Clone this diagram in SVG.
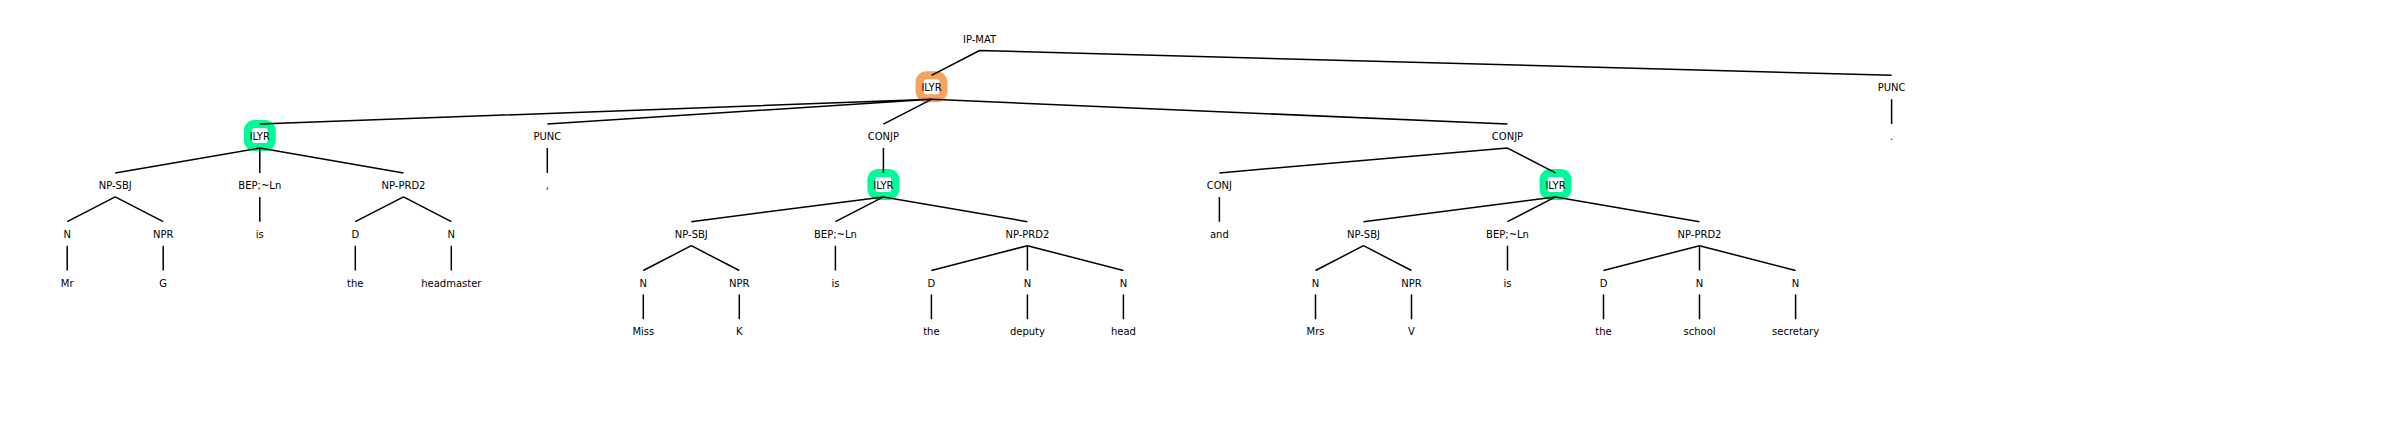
<svg xmlns="http://www.w3.org/2000/svg" width="2400" height="427" viewBox="0 0 2400 427">
<style>
text{font-family:"DejaVu Sans","Liberation Sans",sans-serif;font-size:10px;fill:#000;text-anchor:middle}
.e{stroke:#000;stroke-width:1.5;fill:none}
.hg{fill:#fff;stroke:#00FA9A;stroke-width:8}
.ho{fill:#fff;stroke:#F4A460;stroke-width:8}
</style>
<rect width="2400" height="427" fill="#fff"/>
<g id="nodes">
<g id="n-ipmat"><text x="979.6" y="42.6">IP-MAT</text></g>
<g id="n-ilyr-root"><rect class="ho" x="919.5" y="75.3" width="24" height="23" rx="7"/><text x="931.5" y="91.4">ILYR</text></g>
<g id="n-punc-end"><text x="1891.6" y="91.4">PUNC</text></g>
<g id="n-period"><text x="1891.6" y="140.2">.</text></g>

<g id="n-ilyr1"><rect class="hg" x="247.8" y="124.1" width="24" height="23" rx="7"/><text x="259.8" y="140.2">ILYR</text></g>
<g id="n-punc1"><text x="547.3" y="140.2">PUNC</text></g>
<g id="n-comma"><text x="547.3" y="189">,</text></g>
<g id="n-conjp1"><text x="883.4" y="140.2">CONJP</text></g>
<g id="n-conjp2"><text x="1507.5" y="140.2">CONJP</text></g>

<g id="n-npsbj1"><text x="115.2" y="189">NP-SBJ</text></g>
<g id="n-bep1"><text x="259.8" y="189">BEP;~Ln</text></g>
<g id="n-npprd1"><text x="403.5" y="189">NP-PRD2</text></g>
<g id="n-ilyr2"><rect class="hg" x="871.4" y="172.9" width="24" height="23" rx="7"/><text x="883.4" y="189">ILYR</text></g>
<g id="n-conj"><text x="1219.4" y="189">CONJ</text></g>
<g id="n-ilyr3"><rect class="hg" x="1543.5" y="172.9" width="24" height="23" rx="7"/><text x="1555.5" y="189">ILYR</text></g>

<g id="n-n1"><text x="67.2" y="237.8">N</text></g>
<g id="n-npr1"><text x="163.2" y="237.8">NPR</text></g>
<g id="n-is1"><text x="259.8" y="237.8">is</text></g>
<g id="n-d1"><text x="355.3" y="237.8">D</text></g>
<g id="n-n2"><text x="451.3" y="237.8">N</text></g>
<g id="n-npsbj2"><text x="691.3" y="237.8">NP-SBJ</text></g>
<g id="n-bep2"><text x="835.4" y="237.8">BEP;~Ln</text></g>
<g id="n-npprd2"><text x="1027.4" y="237.8">NP-PRD2</text></g>
<g id="n-and"><text x="1219.4" y="237.8">and</text></g>
<g id="n-npsbj3"><text x="1363.5" y="237.8">NP-SBJ</text></g>
<g id="n-bep3"><text x="1507.5" y="237.8">BEP;~Ln</text></g>
<g id="n-npprd3"><text x="1699.5" y="237.8">NP-PRD2</text></g>

<g id="n-mr"><text x="67.2" y="286.6">Mr</text></g>
<g id="n-g"><text x="163.2" y="286.6">G</text></g>
<g id="n-the1"><text x="355.3" y="286.6">the</text></g>
<g id="n-headmaster"><text x="451.3" y="286.6">headmaster</text></g>
<g id="n-n3"><text x="643.3" y="286.6">N</text></g>
<g id="n-npr2"><text x="739.3" y="286.6">NPR</text></g>
<g id="n-is2"><text x="835.4" y="286.6">is</text></g>
<g id="n-d2"><text x="931.4" y="286.6">D</text></g>
<g id="n-n4"><text x="1027.4" y="286.6">N</text></g>
<g id="n-n5"><text x="1123.4" y="286.6">N</text></g>
<g id="n-n6"><text x="1315.5" y="286.6">N</text></g>
<g id="n-npr3"><text x="1411.5" y="286.6">NPR</text></g>
<g id="n-is3"><text x="1507.5" y="286.6">is</text></g>
<g id="n-d3"><text x="1603.5" y="286.6">D</text></g>
<g id="n-n7"><text x="1699.5" y="286.6">N</text></g>
<g id="n-n8"><text x="1795.6" y="286.6">N</text></g>

<g id="n-miss"><text x="643.3" y="335.4">Miss</text></g>
<g id="n-k"><text x="739.3" y="335.4">K</text></g>
<g id="n-the2"><text x="931.4" y="335.4">the</text></g>
<g id="n-deputy"><text x="1027.4" y="335.4">deputy</text></g>
<g id="n-head"><text x="1123.4" y="335.4">head</text></g>
<g id="n-mrs"><text x="1315.5" y="335.4">Mrs</text></g>
<g id="n-v"><text x="1411.5" y="335.4">V</text></g>
<g id="n-the3"><text x="1603.5" y="335.4">the</text></g>
<g id="n-school"><text x="1699.5" y="335.4">school</text></g>
<g id="n-secretary"><text x="1795.6" y="335.4">secretary</text></g>
</g>
<g id="connectors" class="e">
<path class="e" d="M979.6 50.5L931.5 75.3M979.6 50.5L1891.6 75.3"/>
<path class="e" d="M1891.6 99.3L1891.6 124.1"/>
<path class="e" d="M931.5 99.3L259.8 124.1M931.5 99.3L547.3 124.1M931.5 99.3L883.4 124.1M931.5 99.3L1507.5 124.1"/>
<path class="e" d="M259.8 148.1L115.2 172.9M259.8 148.1L259.8 172.9M259.8 148.1L403.5 172.9"/>
<path class="e" d="M547.3 148.1L547.3 172.9M883.4 148.1L883.4 172.9"/>
<path class="e" d="M1507.5 148.1L1219.4 172.9M1507.5 148.1L1555.5 172.9"/>
<path class="e" d="M115.2 196.9L67.2 221.7M115.2 196.9L163.2 221.7M259.8 196.9L259.8 221.7M403.5 196.9L355.3 221.7M403.5 196.9L451.3 221.7"/>
<path class="e" d="M883.4 196.9L691.3 221.7M883.4 196.9L835.4 221.7M883.4 196.9L1027.4 221.7M1219.4 196.9L1219.4 221.7"/>
<path class="e" d="M1555.5 196.9L1363.5 221.7M1555.5 196.9L1507.5 221.7M1555.5 196.9L1699.5 221.7"/>
<path class="e" d="M67.2 245.7L67.2 270.5M163.2 245.7L163.2 270.5M355.3 245.7L355.3 270.5M451.3 245.7L451.3 270.5"/>
<path class="e" d="M691.3 245.7L643.3 270.5M691.3 245.7L739.3 270.5M835.4 245.7L835.4 270.5M1027.4 245.7L931.4 270.5M1027.4 245.7L1027.4 270.5M1027.4 245.7L1123.4 270.5"/>
<path class="e" d="M1363.5 245.7L1315.5 270.5M1363.5 245.7L1411.5 270.5M1507.5 245.7L1507.5 270.5M1699.5 245.7L1603.5 270.5M1699.5 245.7L1699.5 270.5M1699.5 245.7L1795.6 270.5"/>
<path class="e" d="M643.3 294.5L643.3 319.3M739.3 294.5L739.3 319.3M931.4 294.5L931.4 319.3M1027.4 294.5L1027.4 319.3M1123.4 294.5L1123.4 319.3"/>
<path class="e" d="M1315.5 294.5L1315.5 319.3M1411.5 294.5L1411.5 319.3M1603.5 294.5L1603.5 319.3M1699.5 294.5L1699.5 319.3M1795.6 294.5L1795.6 319.3"/>
</g>
</svg>
